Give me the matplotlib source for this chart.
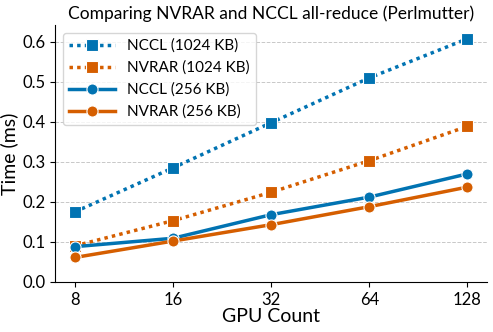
import matplotlib
matplotlib.use("Agg")
import matplotlib.pyplot as plt

gpus = [8, 16, 32, 64, 128]

nccl_1024 = [0.175, 0.285, 0.398, 0.510, 0.608]
nccl_1024_err = [0.004, 0.006, 0.008, 0.005, 0.012]
nvrar_1024 = [0.090, 0.153, 0.224, 0.303, 0.389]
nvrar_1024_err = [0.002, 0.003, 0.003, 0.003, 0.003]
nccl_256 = [0.088, 0.109, 0.168, 0.212, 0.270]
nccl_256_err = [0.002, 0.003, 0.003, 0.003, 0.004]
nvrar_256 = [0.061, 0.102, 0.143, 0.188, 0.237]
nvrar_256_err = [0.002, 0.002, 0.002, 0.002, 0.003]

BLUE = "#0173B2"
ORANGE = "#D55E00"

plt.rcParams["font.family"] = ["Lato", "DejaVu Sans"]

fig = plt.figure(figsize=(4.93, 3.32), dpi=100)
ax = fig.add_axes([0.112, 0.151, 0.876, 0.774])

series = [
    (nccl_1024, nccl_1024_err, BLUE, (0, (1, 1.2)), "s", "NCCL (1024 KB)"),
    (nvrar_1024, nvrar_1024_err, ORANGE, (0, (1, 1.2)), "s", "NVRAR (1024 KB)"),
    (nccl_256, nccl_256_err, BLUE, "-", "o", "NCCL (256 KB)"),
    (nvrar_256, nvrar_256_err, ORANGE, "-", "o", "NVRAR (256 KB)"),
]
for vals, err, color, ls, marker, label in series:
    ax.errorbar(gpus, vals, yerr=err, fmt="none", ecolor=color,
                capsize=3, elinewidth=1.2)
    ax.plot(gpus, vals, color=color, linestyle=ls, linewidth=2.5,
            marker=marker, markersize=8, markeredgecolor="white",
            markeredgewidth=0.8, label=label)

ax.set_xscale("log", base=2)
ax.set_xticks(gpus)
ax.set_xticklabels([str(g) for g in gpus])
ax.minorticks_off()
ax.set_ylim(0, 0.6425)
ax.set_yticks([0.0, 0.1, 0.2, 0.3, 0.4, 0.5, 0.6])
ax.tick_params(labelsize=12)
ax.grid(axis="y", linestyle="--", color="#c8c8c8", linewidth=0.7)
ax.set_axisbelow(True)
for s in ["top", "right"]:
    ax.spines[s].set_visible(False)

ax.set_xlabel("GPU Count", fontsize=14, labelpad=0)
ax.set_ylabel("Time (ms)", fontsize=14, labelpad=3)
ax.set_title("Comparing NVRAR and NCCL all-reduce (Perlmutter)", fontsize=12.5, pad=4)
ax.legend(loc="upper left", fontsize=11, handlelength=3)

fig.savefig("out.png", dpi=100)
